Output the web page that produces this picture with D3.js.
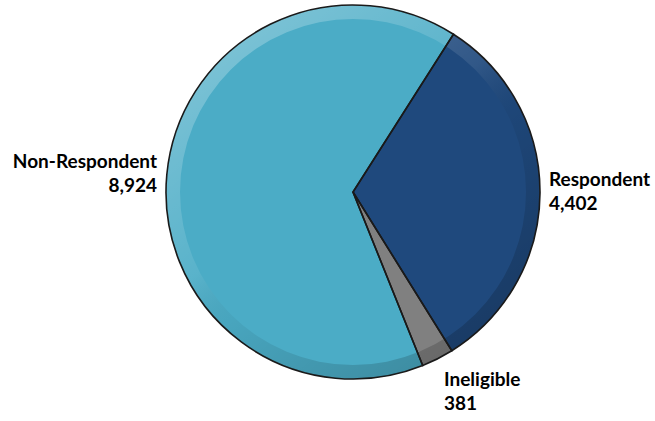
<!DOCTYPE html>
<html>
<head>
<meta charset="utf-8">
<script src="https://cdn.jsdelivr.net/npm/d3@7"></script>
<style>
  html, body { margin: 0; padding: 0; background: #ffffff; }
  svg { display: block; }
  text { font-family: "Lato", "Open Sans", sans-serif; font-weight: 700; fill: #000; }
</style>
</head>
<body>
<svg id="chart" width="655" height="421"></svg>
<script>
// Survey outcome counts
const categories = ["Respondent", "Ineligible", "Non-Respondent"];
const values = [4402, 381, 8924];
const colors = ["#1f497d", "#808080", "#4bacc6"];

const W = 655, H = 421;
const cx = 353, cy = 192, R = 187, bevel = 14;
const startAngle = 0.567; // first slice begins just right of 12 o'clock

const svg = d3.select("#chart");
const defs = svg.append("defs");

// Bevel shading: light on the upper-left rim, dark on the lower-right rim
const grad = defs.append("linearGradient")
  .attr("id", "rimShade")
  .attr("x1", "0").attr("y1", "0").attr("x2", "0.75").attr("y2", "1");
grad.append("stop").attr("offset", "0%").attr("stop-color", "#ffffff").attr("stop-opacity", 0.34);
grad.append("stop").attr("offset", "50%").attr("stop-color", "#ffffff").attr("stop-opacity", 0.08);
grad.append("stop").attr("offset", "62%").attr("stop-color", "#000000").attr("stop-opacity", 0.04);
grad.append("stop").attr("offset", "100%").attr("stop-color", "#000000").attr("stop-opacity", 0.2);

const pie = d3.pie()
  .value(d => d.value)
  .sort(null)
  .startAngle(startAngle)
  .endAngle(startAngle + 2 * Math.PI);

const data = categories.map((c, i) => ({ name: c, value: values[i], color: colors[i] }));
const arcs = pie(data);

const g = svg.append("g").attr("transform", `translate(${cx},${cy})`);

const arc = d3.arc().innerRadius(0).outerRadius(R);

// Slice fills
g.selectAll("path.slice")
  .data(arcs)
  .join("path")
  .attr("class", "slice")
  .attr("d", arc)
  .attr("fill", d => d.data.color);

// Rim shading band
g.append("path")
  .attr("d", d3.arc().innerRadius(R - bevel).outerRadius(R).startAngle(0).endAngle(2 * Math.PI)())
  .attr("fill", "url(#rimShade)");

// Slice outlines
g.selectAll("path.edge")
  .data(arcs)
  .join("path")
  .attr("class", "edge")
  .attr("d", arc)
  .attr("fill", "none")
  .attr("stroke", "#1a1a1a")
  .attr("stroke-width", 1.6)
  .attr("stroke-linejoin", "miter");

// Outside labels: name on top, formatted count below
const fmt = d3.format(",");
const labelPos = {
  "Respondent": { x: 549, y: 186, anchor: "start" },
  "Ineligible": { x: 444, y: 386, anchor: "start" },
  "Non-Respondent": { x: 157, y: 167.5, anchor: "end" }
};

arcs.forEach(a => {
  const p = labelPos[a.data.name];
  const t = svg.append("text")
    .attr("x", p.x).attr("y", p.y)
    .attr("text-anchor", p.anchor)
    .attr("font-size", 19);
  t.append("tspan").attr("x", p.x).text(a.data.name);
  t.append("tspan").attr("x", p.x).attr("dy", 24).text(fmt(a.data.value));
});
</script>
</body>
</html>
